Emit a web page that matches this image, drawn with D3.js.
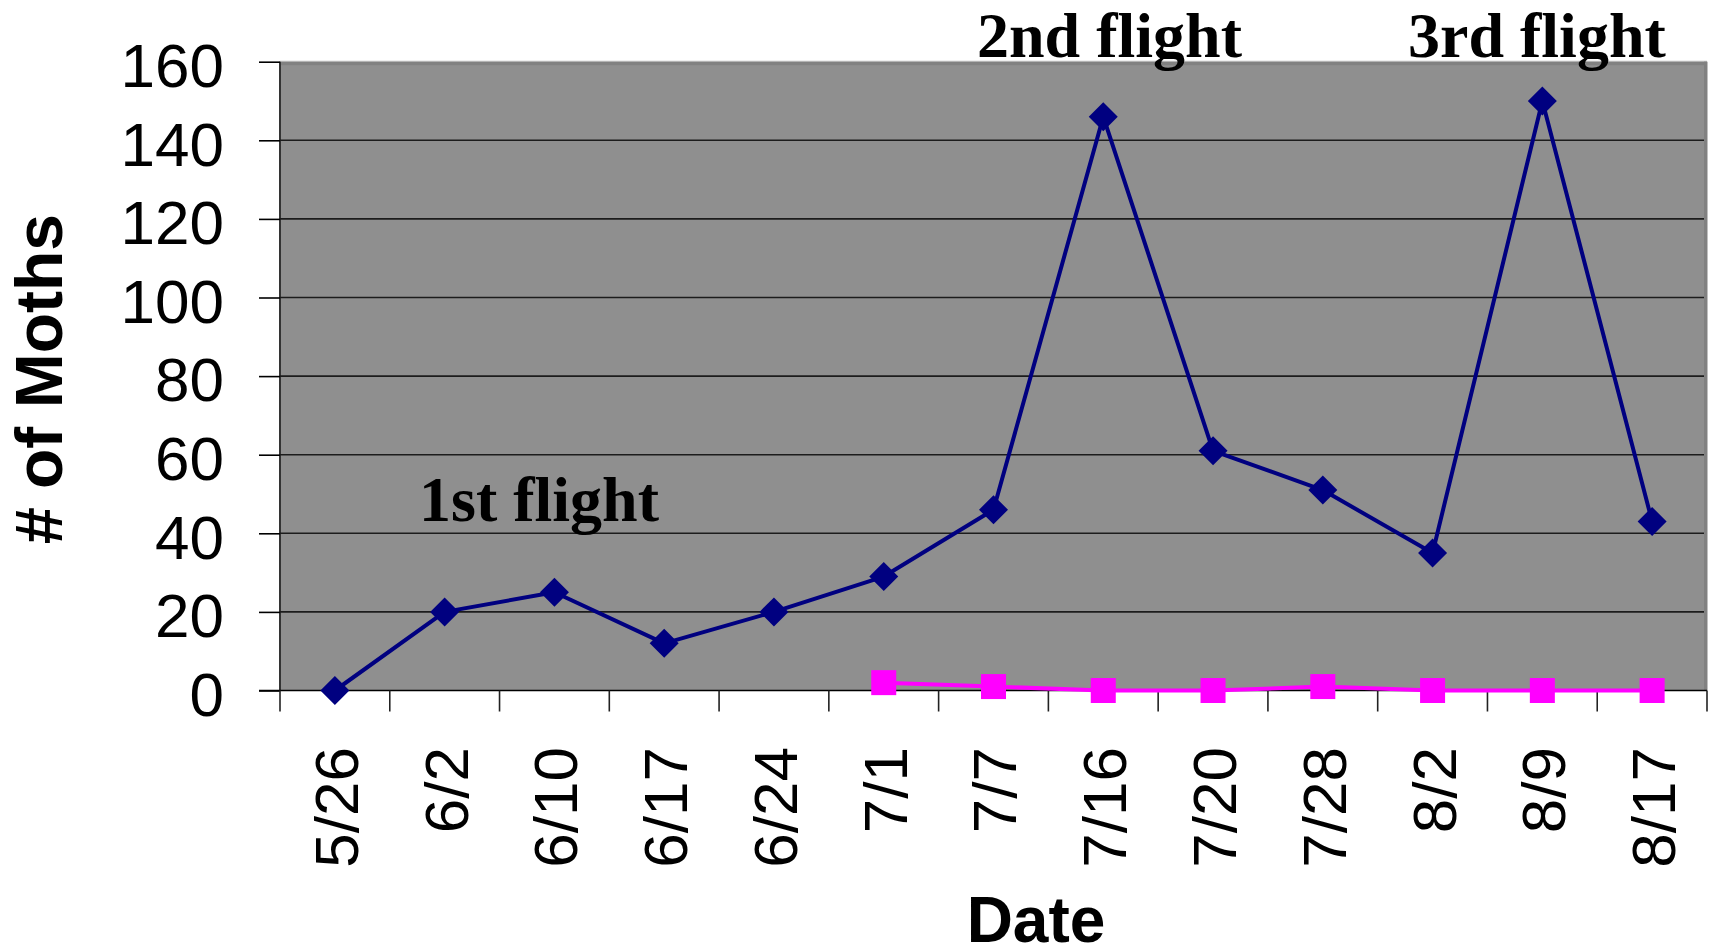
<!DOCTYPE html>
<html>
<head>
<meta charset="utf-8">
<script src="https://cdn.jsdelivr.net/npm/d3@7"></script>
<style>
  html, body { margin: 0; padding: 0; background: #ffffff; }
  svg { display: block; }
</style>
</head>
<body>
<svg id="chart" width="1714" height="947"></svg>
<script>
// Trap dates (x categories)
const dates = ["5/26", "6/2", "6/10", "6/17", "6/24", "7/1", "7/7", "7/16", "7/20", "7/28", "8/2", "8/9", "8/17"];

// Moth counts per trap check
const seriesA = [0, 20, 25, 12, 20, 29, 46, 146, 61, 51, 35, 150, 43];
// Second trap, first checked on 7/1
const seriesB = [null, null, null, null, null, 2, 1, 0, 0, 1, 0, 0, 0];

// Y-axis tick values
const yTicks = [0, 20, 40, 60, 80, 100, 120, 140, 160];

// Flight annotations
const flightLabels = ["1st flight", "2nd flight", "3rd flight"];
const flightValues = [54, 160, 160];
const flightDates = ["6/10", "7/16", "8/9"];

const svg = d3.select("#chart");
const plotLeft = 280, plotRight = 1707, plotTop = 61.7, plotBottom = 690.5;

const x = d3.scaleBand().domain(dates).range([plotLeft, plotRight]).padding(0);
const y = d3.scaleLinear().domain([0, 160]).range([plotBottom, plotTop]);
const cx = d => x(d) + x.bandwidth() / 2;

// Plot area
svg.append("rect")
  .attr("x", plotLeft).attr("y", plotTop)
  .attr("width", plotRight - plotLeft).attr("height", plotBottom - plotTop)
  .attr("fill", "#8f8f8f");
// Plot area frame: light top band, darker right band, dark left edge
svg.append("rect").attr("x", plotLeft).attr("y", plotTop - 1).attr("width", plotRight - plotLeft).attr("height", 1.2).attr("fill", "#c8c8c8");
svg.append("rect").attr("x", plotLeft).attr("y", plotTop).attr("width", plotRight - plotLeft).attr("height", 3.5).attr("fill", "#818181");
svg.append("rect").attr("x", plotRight - 3).attr("y", plotTop).attr("width", 3.5).attr("height", plotBottom - plotTop).attr("fill", "#818181");
svg.append("line").attr("x1", plotLeft).attr("x2", plotLeft).attr("y1", plotTop).attr("y2", plotBottom)
  .attr("stroke", "#333333").attr("stroke-width", 2);

// Horizontal gridlines
svg.append("g").selectAll("line")
  .data(yTicks.filter(v => v > 0 && v < 160))
  .join("line")
  .attr("x1", plotLeft).attr("x2", plotRight - 3)
  .attr("y1", d => y(d)).attr("y2", d => y(d))
  .attr("stroke", "#1c1c1c").attr("stroke-width", 1.6);

// Y axis
const yAxis = svg.append("g")
  .attr("transform", `translate(${plotLeft},0)`)
  .call(d3.axisLeft(y).tickValues(yTicks).tickSize(21).tickPadding(35));
yAxis.select(".domain").remove();
yAxis.selectAll(".tick line").attr("stroke", "#000").attr("stroke-width", 1.6);
yAxis.selectAll(".tick text")
  .attr("font-family", "'Liberation Sans', Arial, sans-serif")
  .attr("font-size", 62)
  .attr("fill", "#000")
  .attr("dy", "0.4em");

// X axis line and boundary ticks
svg.append("line")
  .attr("x1", plotLeft - 21).attr("x2", plotRight)
  .attr("y1", plotBottom).attr("y2", plotBottom)
  .attr("stroke", "#000").attr("stroke-width", 1.6);
const boundaries = dates.map(d => x(d)).concat([plotRight]);
svg.append("g").selectAll("line")
  .data(boundaries)
  .join("line")
  .attr("x1", d => d).attr("x2", d => d)
  .attr("y1", plotBottom).attr("y2", plotBottom + 21)
  .attr("stroke", "#222").attr("stroke-width", 1.6);

// X tick labels (rotated)
const xAxis = svg.append("g")
  .attr("transform", `translate(0,${plotBottom})`)
  .call(d3.axisBottom(x).tickSize(0));
xAxis.select(".domain").remove();
xAxis.selectAll(".tick text")
  .attr("font-family", "'Liberation Sans', Arial, sans-serif")
  .attr("font-size", 62)
  .attr("fill", "#000")
  .attr("transform", "rotate(-90)")
  .attr("text-anchor", "end")
  .attr("x", -56.5)
  .attr("y", 0)
  .attr("dy", "0.37em");

// Series lines
const lineGen = d3.line()
  .defined(d => d.v !== null)
  .x(d => cx(d.date))
  .y(d => y(d.v));

const dataA = dates.map((d, i) => ({ date: d, v: seriesA[i] }));
const dataB = dates.map((d, i) => ({ date: d, v: seriesB[i] }));

svg.append("path").datum(dataB)
  .attr("d", lineGen)
  .attr("fill", "none").attr("stroke", "#ff00ff").attr("stroke-width", 4);

svg.append("path").datum(dataA)
  .attr("d", lineGen)
  .attr("fill", "none").attr("stroke", "#000080").attr("stroke-width", 4)
  .attr("stroke-linejoin", "round");

// Square markers
svg.append("g").selectAll("rect")
  .data(dataB.filter(d => d.v !== null))
  .join("rect")
  .attr("x", d => cx(d.date) - 12.5)
  .attr("y", d => y(d.v) - 12.5)
  .attr("width", 25).attr("height", 25)
  .attr("fill", "#ff00ff");

// Diamond markers
svg.append("g").selectAll("path")
  .data(dataA)
  .join("path")
  .attr("transform", d => `translate(${cx(d.date)},${y(d.v)})`)
  .attr("d", "M0,-14.5L14.5,0L0,14.5L-14.5,0Z")
  .attr("fill", "#000080");

// Flight annotations
const annX = { "6/10": 419, "7/16": 977, "8/9": 1408 };
svg.append("g").selectAll("text")
  .data(flightLabels.map((t, i) => ({ t, v: flightValues[i], d: flightDates[i] })))
  .join("text")
  .attr("x", d => annX[d.d])
  .attr("y", d => d.v === 160 ? 57 : 520.5)
  .attr("font-family", "'Liberation Serif', 'Times New Roman', serif")
  .attr("font-weight", "bold")
  .attr("font-size", 64)
  .attr("fill", "#000")
  .text(d => d.t);

// Axis titles
svg.append("text")
  .attr("transform", "translate(62,379) rotate(-90)")
  .attr("text-anchor", "middle")
  .attr("font-family", "'Liberation Sans', Arial, sans-serif")
  .attr("font-weight", "bold")
  .attr("font-size", 66)
  .attr("fill", "#000")
  .text("# of Moths");

svg.append("text")
  .attr("x", 1036).attr("y", 942)
  .attr("text-anchor", "middle")
  .attr("font-family", "'Liberation Sans', Arial, sans-serif")
  .attr("font-weight", "bold")
  .attr("font-size", 64)
  .attr("fill", "#000")
  .text("Date");
</script>
</body>
</html>
